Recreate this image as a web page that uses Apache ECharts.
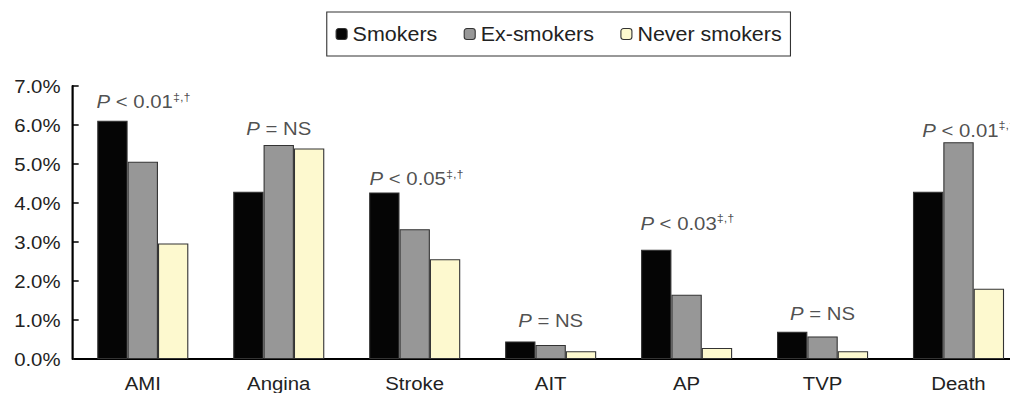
<!DOCTYPE html>
<html>
<head>
<meta charset="utf-8">
<script src="https://cdn.jsdelivr.net/npm/echarts@6/dist/echarts.min.js"></script>
<style>
  html, body { margin: 0; padding: 0; background: #fff; overflow: hidden; }
  #wrap { width: 1010px; height: 393px; overflow: hidden; position: relative; }
  #chart { width: 950px; height: 393px; transform: scaleX(1.1002); transform-origin: 0 0; }
</style>
</head>
<body>
<div id="wrap"><div id="chart"></div></div>
<script>
// ---- data ----
const categories = ['AMI', 'Angina', 'Stroke', 'AIT', 'AP', 'TVP', 'Death'];
const seriesNames = ['Smokers', 'Ex-smokers', 'Never smokers'];
const smokers      = [6.11, 4.29, 4.27, 0.45, 2.80, 0.70, 4.29];
const exSmokers    = [5.06, 5.49, 3.33, 0.36, 1.65, 0.58, 5.56];
const neverSmokers = [2.96, 5.40, 2.56, 0.20, 0.28, 0.20, 1.80];
const yTickValues  = [0, 1, 2, 3, 4, 5, 6, 7];
const pText  = ['< 0.01', '= NS', '< 0.05', '= NS', '< 0.03', '= NS', '< 0.01'];
const pMarks = ['\u2021,\u2020', '', '\u2021,\u2020', '', '\u2021,\u2020', '', '\u2021,\u2020'];
const pLevel = [6.61, 5.92, 4.62, 0.98, 3.49, 1.16, 5.87];

// ---- layout (not data) ----
const annotAlign = ['left', 'center', 'left', 'center', 'left', 'center', 'left'];
const annotDx    = [-42, 0, -41, 0, -42, 0, -33];

const FONT = 'Liberation Sans, Arial, sans-serif';
const chart = echarts.init(document.getElementById('chart'), null, { renderer: 'svg' });

const barStyle = (color) => ({ color: color, borderColor: '#333', borderWidth: 1 });

const annotData = categories.map((c, i) => ({
  value: [c, pLevel[i]],
  label: {
    align: annotAlign[i],
    offset: [annotDx[i], 0],
    formatter: '{i|P}{n| ' + pText[i] + '}' + (pMarks[i] ? '{s|' + pMarks[i] + '}' : '')
  }
}));

chart.setOption({
  animation: false,
  textStyle: { fontFamily: FONT },
  legend: {
    data: seriesNames,
    left: 297,
    top: 12,
    padding: [12, 8, 12, 8],
    borderColor: '#333',
    borderWidth: 1,
    itemWidth: 10,
    itemHeight: 11,
    itemGap: 24,
    textStyle: { fontSize: 19.5, color: '#222', fontFamily: FONT },
    itemStyle: { borderColor: '#333', borderWidth: 1 }
  },
  grid: { left: 68, right: 17, top: 86, bottom: 33.5, containLabel: false },
  xAxis: {
    type: 'category',
    data: categories,
    boundaryGap: true,
    axisLine: { lineStyle: { color: '#000', width: 2 } },
    axisTick: { show: false },
    axisLabel: { fontSize: 18.5, color: '#222', margin: 15, fontFamily: FONT },
    splitLine: { show: false }
  },
  yAxis: {
    type: 'value',
    min: yTickValues[0],
    max: yTickValues[yTickValues.length - 1],
    interval: 1,
    offset: 2,
    axisLine: { show: true, lineStyle: { color: '#000', width: 2 } },
    axisTick: { show: true, inside: true, length: 5.5, lineStyle: { color: '#000', width: 1.5 } },
    axisLabel: { fontSize: 18.5, color: '#222', margin: 11, fontFamily: FONT,
                 formatter: (v) => v.toFixed(1) + '%' },
    splitLine: { show: false }
  },
  series: [
    { name: seriesNames[0], type: 'bar', data: smokers, barGap: '0%', barCategoryGap: '33%',
      itemStyle: barStyle('#050505') },
    { name: seriesNames[1], type: 'bar', data: exSmokers, itemStyle: barStyle('#979797') },
    { name: seriesNames[2], type: 'bar', data: neverSmokers, itemStyle: barStyle('#FDF9CF') },
    {
      type: 'scatter', symbolSize: 0, z: 10, silent: true,
      data: annotData,
      label: {
        show: true,
        position: 'inside',
        color: '#222',
        fontFamily: FONT,
        rich: {
          i: { fontStyle: 'italic', fontSize: 18.5, color: '#222', fontFamily: FONT, lineHeight: 21 },
          n: { fontSize: 18.5, color: '#222', fontFamily: FONT, lineHeight: 21 },
          s: { fontSize: 11.5, color: '#222', fontFamily: FONT, lineHeight: 21, verticalAlign: 'top' }
        }
      }
    }
  ]
});
</script>
</body>
</html>
